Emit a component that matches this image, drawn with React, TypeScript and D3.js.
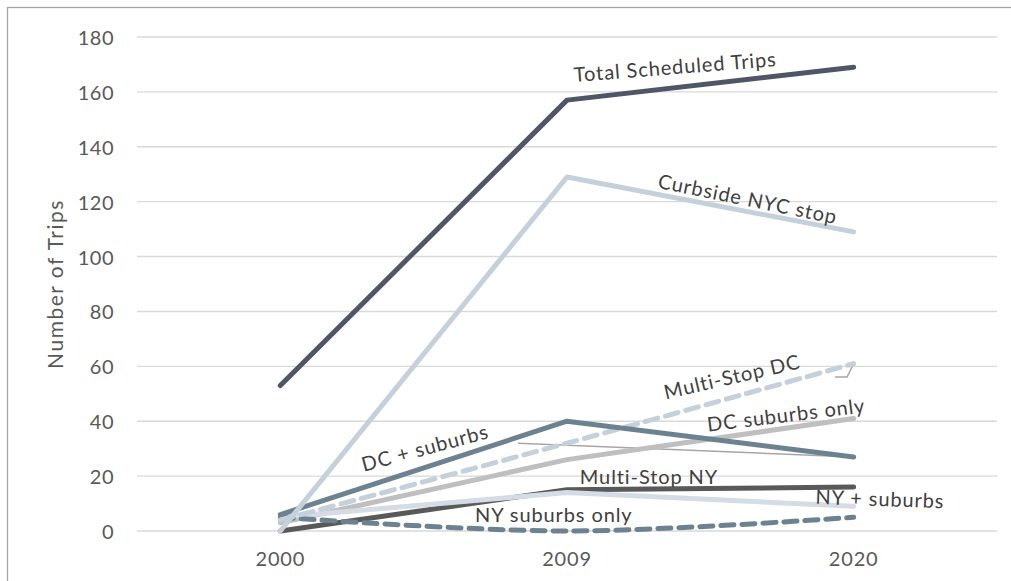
import React from "react";
import * as d3 from "d3";

const years = ["2000", "2009", "2020"];
const yTicks = [0, 20, 40, 60, 80, 100, 120, 140, 160, 180];

const totalScheduled = [53, 157, 169];
const curbsideNYC = [0, 129, 109];
const dcSuburbs = [6, 40, 27];
const multiStopDC = [4, 32, 61];
const dcSuburbsOnly = [3, 26, 41];
const multiStopNY = [0, 15, 16];
const nySuburbs = [5, 14, 9];
const nySuburbsOnly = [5, 0, 5];

const seriesNames = [
  "Total Scheduled Trips",
  "Curbside NYC stop",
  "DC + suburbs",
  "Multi-Stop DC",
  "DC suburbs only",
  "Multi-Stop NY",
  "NY + suburbs",
  "NY suburbs only",
];

// label anchors in data space: [category index, value, angle]
const labelIdx = [1.377, 1.631, 0.504, 1.575, 1.764, 1.286, 2.092, 0.954];
const labelVal = [169.4, 121.3, 30.6, 56.5, 42.6, 20, 12, 6.2];
const labelAngle = [-4.5, 11.5, -15, -13, -7, 0, 2, 0];

// leader lines in data space
const leaderA = [
  [0.829, 32],
  [2, 27],
];
const leaderB = [
  [1.935, 56.1],
  [1.977, 56.1],
  [2, 61],
];

const W = 1011;
const H = 581;
const left = 137;
const right = 997;
const top = 37;
const bottom = 531;

export default function App() {
  const xBand = d3.scaleBand().domain(years).range([left, right]).padding(0);
  const xc = (i: number) => (xBand(years[i]) as number) + xBand.bandwidth() / 2;
  const xi = d3.scaleLinear().domain([0, 2]).range([xc(0), xc(2)]);
  const y = d3.scaleLinear().domain([0, 180]).range([bottom, top]);

  const straight = d3
    .line<number>()
    .x((_, i) => xi(i))
    .y((d) => y(d));
  const smooth = d3
    .line<number>()
    .x((_, i) => xi(i))
    .y((d) => y(d))
    .curve(d3.curveCatmullRom.alpha(0.5));
  const leader = d3
    .line<number[]>()
    .x((d) => xi(d[0]))
    .y((d) => y(d[1]));

  const font = "Lato, 'Open Sans', sans-serif";

  const series = [
    { d: dcSuburbsOnly, c: "#bfbfbf", dash: false, smooth: false },
    { d: multiStopNY, c: "#595959", dash: false, smooth: false },
    { d: nySuburbs, c: "#d6dce5", dash: false, smooth: false },
    { d: nySuburbsOnly, c: "#6d8291", dash: true, smooth: true },
    { d: multiStopDC, c: "#c4d0da", dash: true, smooth: true },
    { d: dcSuburbs, c: "#6d8291", dash: false, smooth: false },
    { d: curbsideNYC, c: "#c4d0da", dash: false, smooth: false },
    { d: totalScheduled, c: "#505668", dash: false, smooth: false },
  ];

  return (
    <svg
      width={W}
      height={H}
      style={{ position: "absolute", left: 0, top: 0, background: "#fff" }}
    >
      <rect x={0} y={0} width={W} height={H} fill="#fff" />
      <rect
        x={7.5}
        y={7.5}
        width={W + 50}
        height={H + 50}
        fill="none"
        stroke="#a6a6a6"
        strokeWidth={1.3}
      />
      {yTicks.map((t) => (
        <g key={t}>
          <line
            x1={left}
            x2={right}
            y1={y(t)}
            y2={y(t)}
            stroke="#d9d9d9"
            strokeWidth={1.4}
          />
          <text
            x={114}
            y={y(t)}
            textAnchor="end"
            dominantBaseline="central"
            fontFamily={font}
            fontSize={20}
            letterSpacing={0.5}
            fill="#595959"
          >
            {t}
          </text>
        </g>
      ))}
      {years.map((yr, i) => (
        <text
          key={yr}
          x={xc(i)}
          y={566}
          textAnchor="middle"
          fontFamily={font}
          fontSize={20}
          letterSpacing={0.8}
          fill="#595959"
        >
          {yr}
        </text>
      ))}
      <text
        transform={`translate(63,${(top + bottom) / 2}) rotate(-90)`}
        textAnchor="middle"
        fontFamily={font}
        fontSize={21}
        letterSpacing={1.5}
        fill="#595959"
      >
        Number of Trips
      </text>

      <path
        d={leader(leaderA) as string}
        fill="none"
        stroke="#a6a6a6"
        strokeWidth={1.5}
      />
      <path
        d={leader(leaderB) as string}
        fill="none"
        stroke="#a6a6a6"
        strokeWidth={1.5}
      />

      {series.map((s, k) => (
        <path
          key={k}
          d={(s.smooth ? smooth(s.d) : straight(s.d)) as string}
          fill="none"
          stroke={s.c}
          strokeWidth={5}
          strokeLinecap="round"
          strokeLinejoin="round"
          strokeDasharray={s.dash ? "13,8" : undefined}
        />
      ))}

      {seriesNames.map((n, i) => (
        <text
          key={n}
          transform={`translate(${xi(labelIdx[i])},${y(labelVal[i])}) rotate(${labelAngle[i]})`}
          textAnchor="middle"
          dominantBaseline="central"
          fontFamily={font}
          fontSize={20}
          letterSpacing={0.9}
          fill="#404040"
        >
          {n}
        </text>
      ))}
    </svg>
  );
}
